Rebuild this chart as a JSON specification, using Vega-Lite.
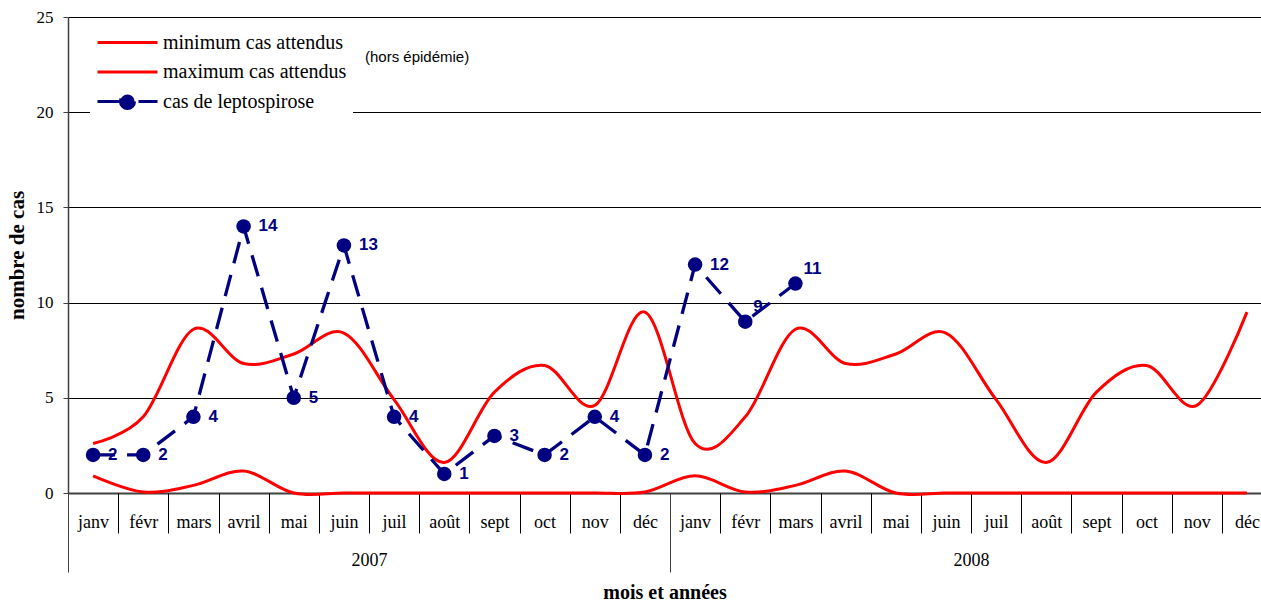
{
  "$schema": "https://vega.github.io/schema/vega-lite/v6.json",
  "width": 1193,
  "height": 476,
  "autosize": "none",
  "padding": {"left": 68, "top": 17, "right": 0, "bottom": 110},
  "background": "white",
  "config": {"view": {"stroke": null}, "font": "Liberation Serif", "legend": {"labelFont": "Liberation Serif"}},
  "data": {"values": [
    {"i": 0, "min": 0.9, "max": 2.6, "cas": 2},
    {"i": 1, "min": 0.05, "max": 4.0, "cas": 2},
    {"i": 2, "min": 0.4, "max": 8.6, "cas": 4},
    {"i": 3, "min": 1.15, "max": 6.8, "cas": 14},
    {"i": 4, "min": 0, "max": 7.3, "cas": 5},
    {"i": 5, "min": 0, "max": 8.4, "cas": 13},
    {"i": 6, "min": 0, "max": 4.9, "cas": 4},
    {"i": 7, "min": 0, "max": 1.6, "cas": 1},
    {"i": 8, "min": 0, "max": 5.3, "cas": 3},
    {"i": 9, "min": 0, "max": 6.7, "cas": 2},
    {"i": 10, "min": 0, "max": 4.6, "cas": 4},
    {"i": 11, "min": 0.05, "max": 9.5, "cas": 2},
    {"i": 12, "min": 0.9, "max": 2.6, "cas": 12},
    {"i": 13, "min": 0.05, "max": 4.0, "cas": 9},
    {"i": 14, "min": 0.4, "max": 8.6, "cas": 11},
    {"i": 15, "min": 1.15, "max": 6.8},
    {"i": 16, "min": 0, "max": 7.3},
    {"i": 17, "min": 0, "max": 8.4},
    {"i": 18, "min": 0, "max": 4.9},
    {"i": 19, "min": 0, "max": 1.6},
    {"i": 20, "min": 0, "max": 5.3},
    {"i": 21, "min": 0, "max": 6.7},
    {"i": 22, "min": 0, "max": 4.6},
    {"i": 23, "min": 0, "max": 9.5}
  ]},
  "resolve": {"axis": {"x": "independent"}},
  "layer": [
    {
      "transform": [
        {"fold": ["min", "max"], "as": ["serie", "v"]},
        {"filter": "isValid(datum.v)"}
      ],
      "mark": {"type": "line", "interpolate": "cardinal", "strokeWidth": 3},
      "encoding": {
        "x": {
          "field": "i", "type": "quantitative",
          "scale": {"domain": [-0.5, 23.28], "nice": false, "zero": false},
          "axis": {
            "orient": "bottom", "title": null,
            "values": [0,1,2,3,4,5,6,7,8,9,10,11,12,13,14,15,16,17,18,19,20,21,22,23],
            "grid": false, "ticks": false, "tickSize": 0,
            "domain": true, "domainColor": "#404040", "domainWidth": 2,
            "labelExpr": "['janv','févr','mars','avril','mai','juin','juil','août','sept','oct','nov','déc'][datum.value % 12]",
            "labelFlush": false, "labelOverlap": false, "labelBound": false,
            "labelPadding": 29, "labelBaseline": "middle",
            "labelFont": "Liberation Serif", "labelFontSize": 18, "labelColor": "black"
          }
        },
        "y": {
          "field": "v", "type": "quantitative", "title": "nombre de cas",
          "scale": {"domain": [0, 25], "nice": false},
          "axis": {
            "values": [0, 5, 10, 15, 20, 25],
            "grid": true, "gridColor": "black", "gridWidth": 1,
            "domainColor": "#404040", "domainWidth": 1.5,
            "tickColor": "#404040", "tickSize": 5,
            "labelFont": "Liberation Serif", "labelFontSize": 17, "labelColor": "black", "labelPadding": 10,
            "titleFont": "Liberation Serif", "titleFontSize": 21, "titleFontWeight": "bold", "titleColor": "black", "titlePadding": 9
          }
        },
        "color": {
          "field": "serie", "type": "nominal", "sort": null,
          "scale": {"domain": ["min", "max", "cas"], "range": ["#ff0000", "#ff0000", "#000080"]},
          "legend": {
            "title": null, "orient": "none", "legendX": 22, "legendY": 3,
            "fillColor": "white", "padding": 6, "rowPadding": 2.5,
            "symbolType": "M-1,0H3", "symbolSize": 900, "symbolStrokeWidth": 3,
            "labelFont": "Liberation Serif", "labelFontSize": 20, "labelColor": "black",
            "labelOffset": 34, "labelLimit": 400,
            "labelExpr": "{'min': 'minimum cas attendus', 'max': 'maximum cas attendus', 'cas': 'cas de leptospirose'}[datum.value]",
            "encode": {
              "labels": {
                "update": {
                  "font": {"value": "Liberation Serif"},
                  "fontSize": {"value": 20},
                  "fill": {"value": "black"}
                }
              },
              "symbols": {
                "update": {
                  "shape": {"signal": "datum.value === 'cas' ? 'M-1,0H3M0.53,0A0.47,0.47 0 1,0 1.47,0A0.47,0.47 0 1,0 0.53,0' : 'M-1,0H3'"},
                  "fill": {"signal": "datum.value === 'cas' ? '#000080' : 'transparent'"},
                  "stroke": {"signal": "datum.value === 'cas' ? '#000080' : '#ff0000'"},
                  "strokeDash": {"signal": "datum.value === 'cas' ? [22, 19] : [1, 0]"},
                  "opacity": {"value": 1}
                }
              }
            }
          }
        }
      }
    },
    {
      "transform": [
        {"fold": ["cas"], "as": ["serie", "v"]},
        {"filter": "isValid(datum.v)"}
      ],
      "mark": {"type": "line", "color": "#000080", "strokeWidth": 3.3, "strokeDash": [22, 12]},
      "encoding": {
        "x": {
          "field": "i", "type": "quantitative",
          "scale": {"domain": [-0.5, 23.28], "nice": false, "zero": false},
          "axis": {
            "orient": "bottom", "title": null,
            "values": [-0.5,0.5,1.5,2.5,3.5,4.5,5.5,6.5,7.5,8.5,9.5,10.5,11.5,12.5,13.5,14.5,15.5,16.5,17.5,18.5,19.5,20.5,21.5,22.5,23.5],
            "grid": false, "domain": false, "labels": false,
            "ticks": true, "tickSize": 40, "tickColor": "black", "tickWidth": 1
          }
        },
        "y": {"field": "v", "type": "quantitative", "title": "nombre de cas", "scale": {"domain": [0, 25], "nice": false}}
      }
    },
    {
      "transform": [
        {"fold": ["cas"], "as": ["serie", "v"]},
        {"filter": "isValid(datum.v)"}
      ],
      "mark": {"type": "point", "filled": true, "color": "#000080", "size": 210, "opacity": 1},
      "encoding": {
        "x": {
          "field": "i", "type": "quantitative",
          "scale": {"domain": [-0.5, 23.28], "nice": false, "zero": false},
          "axis": {
            "orient": "bottom", "title": null,
            "values": [-0.5, 11.5, 23.5],
            "grid": false, "domain": false, "labels": false,
            "ticks": true, "tickSize": 79, "tickColor": "#404040", "tickWidth": 1
          }
        },
        "y": {"field": "v", "type": "quantitative", "title": "nombre de cas", "scale": {"domain": [0, 25], "nice": false}}
      }
    },
    {
      "transform": [
        {"fold": ["cas"], "as": ["serie", "v"]},
        {"filter": "isValid(datum.v) && datum.i <= 12"}
      ],
      "mark": {"type": "text", "align": "left", "baseline": "middle", "dx": 15, "font": "Liberation Sans", "fontWeight": "bold", "fontSize": 17, "color": "#000080"},
      "encoding": {
        "x": {
          "field": "i", "type": "quantitative",
          "scale": {"domain": [-0.5, 23.28], "nice": false, "zero": false},
          "axis": {
            "orient": "bottom", "title": "mois et années",
            "values": [5.5, 17.5],
            "grid": false, "domain": false, "ticks": false, "tickSize": 0,
            "labelExpr": "datum.value < 12 ? '2007' : '2008'",
            "labelFlush": false, "labelOverlap": false, "labelBound": false,
            "labelPadding": 67, "labelBaseline": "middle",
            "labelFont": "Liberation Serif", "labelFontSize": 18, "labelColor": "black",
            "titleFont": "Liberation Serif", "titleFontSize": 20, "titleFontWeight": "bold", "titleColor": "black", "titlePadding": 13
          }
        },
        "y": {"field": "v", "type": "quantitative", "title": "nombre de cas", "scale": {"domain": [0, 25], "nice": false}},
        "text": {"field": "v", "type": "quantitative"}
      }
    },
    {
      "transform": [
        {"fold": ["cas"], "as": ["serie", "v"]},
        {"filter": "isValid(datum.v) && datum.i > 12"}
      ],
      "mark": {"type": "text", "align": "left", "baseline": "middle", "dx": 8, "dy": -15, "font": "Liberation Sans", "fontWeight": "bold", "fontSize": 17, "color": "#000080"},
      "encoding": {
        "x": {"field": "i", "type": "quantitative", "scale": {"domain": [-0.5, 23.28], "nice": false, "zero": false}, "axis": null},
        "y": {"field": "v", "type": "quantitative", "title": "nombre de cas", "scale": {"domain": [0, 25], "nice": false}},
        "text": {"field": "v", "type": "quantitative"}
      }
    },
    {
      "data": {"values": [{"note": "(hors épidémie)"}]},
      "mark": {"type": "text", "align": "left", "baseline": "middle", "font": "Liberation Sans", "fontSize": 15, "color": "black"},
      "encoding": {
        "x": {"datum": 5.42, "type": "quantitative", "scale": {"domain": [-0.5, 23.28], "nice": false, "zero": false}, "axis": null},
        "y": {"datum": 22.9, "type": "quantitative", "title": "nombre de cas", "scale": {"domain": [0, 25], "nice": false}},
        "text": {"field": "note"}
      }
    }
  ]
}
